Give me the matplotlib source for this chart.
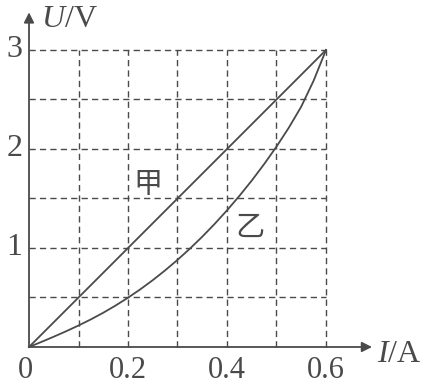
import matplotlib
matplotlib.use("Agg")
import matplotlib.pyplot as plt

plt.rcParams["mathtext.fontset"] = "custom"
plt.rcParams["mathtext.rm"] = "Liberation Serif"
plt.rcParams["mathtext.it"] = "Liberation Serif:italic"

current_ticks = [0.2, 0.4, 0.6]
voltage_ticks = [1, 2, 3]
grid_i = [0.1, 0.2, 0.3, 0.4, 0.5, 0.6]
grid_u = [0.5, 1.0, 1.5, 2.0, 2.5, 3.0]

jia_i = [0.0, 0.6]
jia_u = [0.0, 3.0]

yi_i = [0.0, 0.025, 0.05, 0.075, 0.1, 0.125, 0.15, 0.175, 0.2, 0.225, 0.25,
        0.275, 0.3, 0.325, 0.35, 0.375, 0.4, 0.425, 0.45, 0.475, 0.5, 0.525,
        0.55, 0.575, 0.6]
yi_u = [0.0, 0.051, 0.104, 0.159, 0.217, 0.279, 0.346, 0.419, 0.498, 0.583,
        0.675, 0.774, 0.88, 0.993, 1.114, 1.243, 1.38, 1.526, 1.681, 1.847,
        2.024, 2.216, 2.428, 2.69, 3.0]

ink = "#4a4a4a"
serif = ["Liberation Serif", "DejaVu Serif"]
cjk = ["Noto Sans CJK SC", "DejaVu Sans"]

fig = plt.figure(figsize=(4.24, 3.86), dpi=100)
ax = fig.add_axes([0, 0, 1, 1])
ax.set_xlim(-0.0586, 0.798)
ax.set_ylim(-0.394, 3.505)
ax.axis("off")

# dashed grid
imax, umax = grid_i[-1], grid_u[-1]
for x in grid_i:
    ax.plot([x, x], [0, umax], color=ink, lw=1.0, ls=(0, (4.5, 3)))
for y in grid_u:
    ax.plot([0, imax], [y, y], color=ink, lw=1.0, ls=(0, (4.5, 3)))

# axes with arrows
arrow = dict(arrowstyle="-|>", color=ink, lw=1.3, mutation_scale=15,
             shrinkA=0, shrinkB=0)
ax.annotate("", xy=(0.693, 0), xytext=(0, 0), arrowprops=arrow)
ax.annotate("", xy=(0, 3.38), xytext=(0, 0), arrowprops=arrow)

# curves
ax.plot(jia_i, jia_u, color=ink, lw=1.3)
ax.plot(yi_i, yi_u, color=ink, lw=1.3)

# tick labels
for x in current_ticks:
    ax.text(x, -0.385, f"{x:g}", ha="center", va="bottom", fontsize=22,
            family=serif, color=ink)
ax.text(-0.008, -0.385, "0", ha="center", va="bottom", fontsize=22,
        family=serif, color=ink)
for y in voltage_ticks:
    ax.text(-0.030, y, str(y), ha="center", va="center", fontsize=23,
            family=serif, color=ink)

# axis names
ax.text(0.024, 3.31, "$U$/V", ha="left", va="center", fontsize=23,
        family=serif, color=ink)
ax.text(0.704, -0.08, "$I$/A", ha="left", va="center", fontsize=23,
        family=serif, color=ink)

# curve names
ax.text(0.24, 1.64, "甲", ha="center", va="center", fontsize=21,
        family=cjk, color=ink, weight="light")
ax.text(0.446, 1.2, "乙", ha="center", va="center", fontsize=21,
        family=cjk, color=ink, weight="light")

fig.savefig("out.png", dpi=100)
